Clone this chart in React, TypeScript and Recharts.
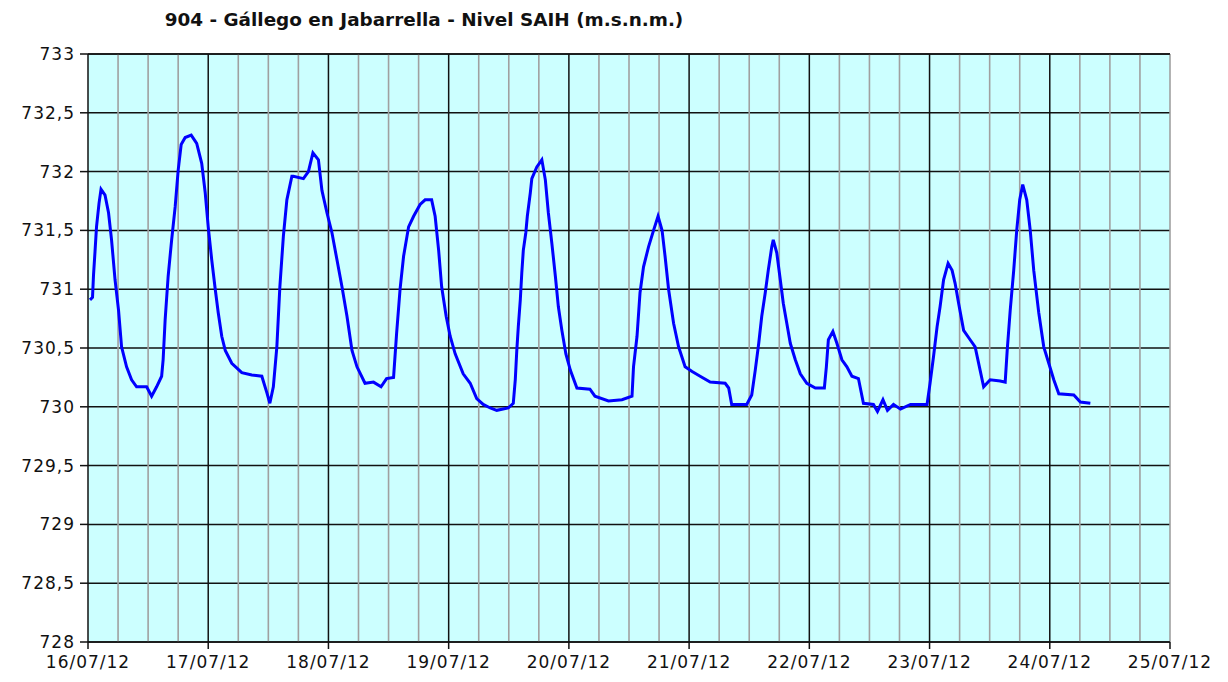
import React from "react";
import { LineChart, Line, XAxis, YAxis, CartesianGrid, ReferenceLine } from "recharts";

// hours since 16/07/12 00:00
const hours: number[] = [
  0.4, 0.9, 1.1, 1.4, 1.7, 2.2, 2.6, 3.4, 4.1, 4.7, 5.4, 6.1, 6.7, 7.7, 8.7, 9.7, 11.7, 12.7, 13.7, 14.7,
  15.0, 15.4, 16.0, 16.7, 17.4, 18.0, 18.6, 19.4, 20.6, 21.7, 22.7, 23.4, 24.0, 24.7, 25.4, 26.0, 26.7, 27.4,
  28.7, 30.7, 32.7, 34.7, 35.7, 36.3, 37.0, 37.7, 38.3, 39.0, 39.7, 40.7, 41.0, 43.0, 44.0, 44.9, 46.0, 46.7,
  47.7, 48.7, 49.7, 50.7, 51.7, 52.7, 53.7, 55.3, 57.0, 58.5, 59.6, 61.0, 61.6, 62.3, 63.0, 64.0, 65.0, 66.3,
  67.3, 68.6, 69.3, 70.0, 70.6, 71.5, 72.3, 73.3, 74.9, 76.3, 77.6, 78.9, 80.3, 81.6, 83.9, 84.9, 85.3, 85.6,
  85.9, 86.3, 86.6, 86.9, 87.4, 87.7, 88.3, 88.6, 89.6, 90.6, 91.3, 91.9, 92.6, 93.3, 93.9, 94.6, 95.4, 96.3,
  97.6, 100.2, 101.2, 103.9, 106.6, 108.6, 108.9, 109.6, 110.2, 110.9, 111.9, 112.9, 113.8, 114.6, 115.2, 115.9,
  116.9, 117.9, 119.2, 120.6, 122.2, 124.2, 127.2, 127.9, 128.5, 131.5, 132.5, 133.2, 133.9, 134.5, 135.2, 135.8,
  136.5, 136.8, 137.5, 138.2, 138.8, 139.5, 140.2, 141.2, 142.2, 143.5, 145.2, 147.0, 147.4, 147.8, 148.7, 149.5,
  150.5, 151.5, 152.5, 153.8, 154.8, 156.8, 157.6, 158.7, 159.6, 160.8, 162.2, 164.2, 167.5, 168.1, 168.8, 169.5,
  170.1, 170.8, 171.7, 172.5, 173.1, 173.8, 174.8, 176.1, 177.1, 178.1, 178.8, 180.1, 182.1, 183.1, 183.5, 184.1,
  184.8, 185.4, 186.0, 186.6, 187.4, 188.1, 188.8, 189.8, 190.8, 191.8, 192.8, 193.8, 196.8, 198.1, 200.1,
];

const levels: number[] = [
  730.91, 730.93, 731.12, 731.32, 731.53, 731.73, 731.85, 731.8, 731.65, 731.42, 731.08, 730.82, 730.51, 730.34, 730.23, 730.17, 730.17, 730.09, 730.17, 730.26,
  730.4, 730.74, 731.11, 731.42, 731.7, 732.01, 732.23, 732.29, 732.31, 732.24, 732.07, 731.82, 731.53, 731.25, 731.0, 730.8, 730.6, 730.48,
  730.37, 730.29, 730.27, 730.26, 730.12, 730.03, 730.17, 730.51, 731.02, 731.45, 731.76, 731.96, 731.96, 731.94, 732.0, 732.16, 732.1, 731.84,
  731.65, 731.48, 731.25, 731.02, 730.77, 730.48, 730.34, 730.2, 730.21, 730.17, 730.24, 730.25, 730.62, 731.0, 731.28, 731.53, 731.62, 731.72,
  731.76, 731.76, 731.62, 731.33, 731.02, 730.77, 730.6, 730.45, 730.28, 730.2, 730.07, 730.02, 729.99, 729.97, 729.99, 730.03, 730.23, 730.48,
  730.68, 730.91, 731.14, 731.33, 731.48, 731.62, 731.82, 731.94, 732.04, 732.1, 731.93, 731.65, 731.39, 731.11, 730.85, 730.65, 730.45, 730.31,
  730.16, 730.15, 730.09, 730.05, 730.06, 730.09, 730.34, 730.6, 730.97, 731.19, 731.36, 731.5, 731.62, 731.5, 731.28, 731.0,
  730.71, 730.51, 730.34, 730.3, 730.26, 730.21, 730.2, 730.16, 730.02, 730.02, 730.1, 730.31, 730.54, 730.77, 730.97, 731.16,
  731.36, 731.42, 731.31, 731.08, 730.88, 730.71, 730.54, 730.4, 730.28, 730.2, 730.16, 730.16, 730.34, 730.57, 730.64, 730.54,
  730.4, 730.34, 730.26, 730.24, 730.03, 730.02, 729.96, 730.06, 729.97, 730.02, 729.98, 730.02, 730.02, 730.2, 730.43, 730.68,
  730.85, 731.08, 731.22, 731.16, 731.05, 730.88, 730.65, 730.57, 730.51, 730.31, 730.17, 730.23, 730.22, 730.21, 730.48, 730.82,
  731.16, 731.5, 731.76, 731.89, 731.76, 731.5, 731.16, 730.8, 730.51, 730.37, 730.23, 730.11, 730.1, 730.04, 730.03,
];

const dayTicks: number[] = [0, 24, 48, 72, 96, 120, 144, 168, 192, 216];
const dayLabels: string[] = ["16/07/12", "17/07/12", "18/07/12", "19/07/12", "20/07/12", "21/07/12", "22/07/12", "23/07/12", "24/07/12", "25/07/12"];
const minorHours: number[] = [6, 12, 18, 30, 36, 42, 54, 60, 66, 78, 84, 90, 102, 108, 114, 126, 132, 138, 150, 156, 162, 174, 180, 186, 198, 204, 210, 216];
const majorHours: number[] = [24, 48, 72, 96, 120, 144, 168, 192];
const levelTicks: number[] = [728, 728.5, 729, 729.5, 730, 730.5, 731, 731.5, 732, 732.5, 733];

const title = "904 - Gállego en Jabarrella - Nivel SAIH (m.s.n.m.)";

const data = hours.map((h, i) => ({ h, v: levels[i] }));

const font = "'DejaVu Sans', Verdana, sans-serif";

export default function App() {
  return (
    <div style={{ position: "relative", width: 1228, height: 682, background: "#fff", fontFamily: font }}>
      <style>{`body{margin:0;overflow:hidden;}`}</style>
      <div
        style={{
          position: "absolute",
          left: 0,
          width: 848,
          top: 9,
          textAlign: "center",
          fontWeight: "bold",
          fontSize: 18.4,
          color: "#111",
          whiteSpace: "nowrap",
        }}
      >
        {title}
      </div>
      <LineChart width={1228} height={682} data={data} margin={{ top: 54, right: 58, bottom: 0, left: 0 }}>
        <CartesianGrid vertical={false} stroke="#111" strokeWidth={1.5} fill="#CCFFFF" fillOpacity={1} />
        {minorHours.map((m) => (
          <ReferenceLine key={"mi" + m} x={m} stroke="#A0A0A0" strokeWidth={1.6} ifOverflow="visible" />
        ))}
        {majorHours.map((m) => (
          <ReferenceLine key={"ma" + m} x={m} stroke="#111" strokeWidth={1.5} ifOverflow="visible" />
        ))}
        <ReferenceLine y={733} stroke="#111" strokeWidth={1.5} />
        <XAxis
          dataKey="h"
          type="number"
          domain={[0, 216]}
          ticks={dayTicks}
          tickFormatter={(t: number) => dayLabels[dayTicks.indexOf(t)] ?? ""}
          height={40}
          stroke="#111"
          strokeWidth={1.5}
          tickSize={7}
          tickMargin={7}
          tick={{ fill: "#111", fontSize: 17, fontFamily: font, letterSpacing: 1 }}
          interval={0}
          allowDataOverflow
        />
        <YAxis
          type="number"
          domain={[728, 733]}
          ticks={levelTicks}
          tickFormatter={(t: number) => String(t).replace(".", ",")}
          width={88}
          stroke="#111"
          strokeWidth={1.5}
          tickSize={8}
          tickMargin={5}
          tick={{ fill: "#111", fontSize: 17, fontFamily: font, letterSpacing: 1 }}
          interval={0}
          allowDataOverflow
        />
        <Line
          type="linear"
          dataKey="v"
          stroke="#0000FF"
          strokeWidth={3}
          dot={false}
          isAnimationActive={false}
        />
      </LineChart>
    </div>
  );
}
